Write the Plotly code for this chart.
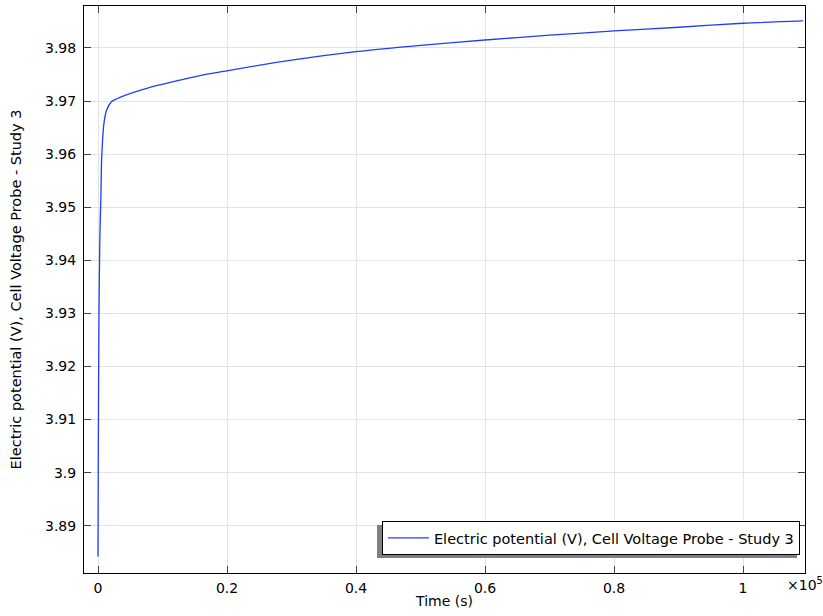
import plotly.graph_objects as go

time_s = [0, 50, 150, 300, 450, 560, 930, 1340, 2120, 3410, 7550, 15800, 20000,
          30000, 40000, 50000, 60000, 70000, 80000, 90000, 100000, 109300]
voltage = [3.8842, 3.905, 3.930, 3.945, 3.952, 3.9589, 3.9659, 3.9683, 3.9699, 3.9707,
           3.9724, 3.9748, 3.9757, 3.9777, 3.9793, 3.9805, 3.9815, 3.9824, 3.9832,
           3.9839, 3.98465, 3.9851]

x_tickvals = [0, 20000, 40000, 60000, 80000, 100000]
x_ticktext = ["0", "0.2", "0.4", "0.6", "0.8", "1"]
y_tickvals = [3.89, 3.90, 3.91, 3.92, 3.93, 3.94, 3.95, 3.96, 3.97, 3.98]
y_ticktext = ["3.89", "3.9", "3.91", "3.92", "3.93", "3.94", "3.95", "3.96", "3.97", "3.98"]

series_name = "Electric potential (V), Cell Voltage Probe - Study 3"

fig = go.Figure()
fig.add_trace(go.Scatter(x=time_s, y=voltage, mode="lines", name=series_name,
                         line=dict(color="#1f3dff", width=1.3, shape="spline", smoothing=0.6),
                         showlegend=True))

font = dict(family="DejaVu Sans", size=14, color="black")
font_big = dict(family="DejaVu Sans", size=14.5, color="black")

fig.update_layout(
    width=823, height=616,
    margin=dict(l=84, r=18, t=6, b=43),
    paper_bgcolor="white", plot_bgcolor="white",
    font=font,
    showlegend=True,
    legend=dict(x=0.993, y=0.0317, xanchor="right", yanchor="bottom",
                bgcolor="white", bordercolor="black", borderwidth=1,
                itemwidth=41, font=font_big),
    xaxis=dict(range=[-2170, 109600], tickvals=x_tickvals, ticktext=x_ticktext,
               showgrid=True, gridcolor="#e3e3e3", gridwidth=1,
               showline=True, linecolor="black", linewidth=1, mirror="ticks",
               ticks="inside", ticklen=7, tickcolor="#444", zeroline=False,
               tickfont=font, ticklabelstandoff=2,
               title=dict(text="Time (s)", standoff=1, font=font)),
    yaxis=dict(range=[3.8811, 3.9879], tickvals=y_tickvals, ticktext=y_ticktext,
               showgrid=True, gridcolor="#e3e3e3", gridwidth=1,
               showline=True, linecolor="black", linewidth=1, mirror="ticks",
               ticks="inside", ticklen=7, tickcolor="#444", zeroline=False,
               tickfont=font, ticklabelstandoff=4,
               title=dict(text=series_name, standoff=19, font=font_big)),
)

fig.add_annotation(text="×10<sup>5</sup>", xref="paper", yref="paper",
                   x=1.0, y=0.0, xanchor="center", yanchor="top",
                   showarrow=False, font=font)

# legend shadow
fig.add_shape(type="rect", xref="paper", yref="paper",
              x0=(377 - 84) / 721, x1=(797 - 84) / 721,
              y0=(573 - 558) / 567, y1=(573 - 525) / 567,
              fillcolor="#808080", line=dict(width=0), layer="above")

fig.write_html("out.html")
